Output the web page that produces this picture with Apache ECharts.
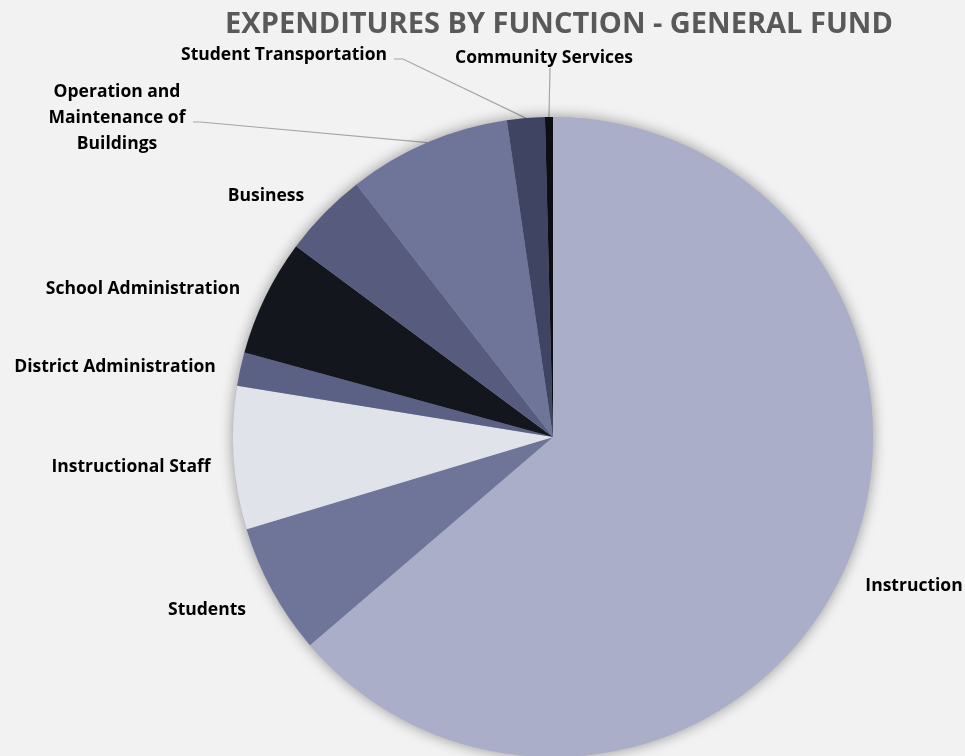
<!DOCTYPE html>
<html>
<head>
<meta charset="utf-8">
<script src="https://cdn.jsdelivr.net/npm/echarts@6/dist/echarts.min.js"></script>
<style>
html,body{margin:0;padding:0;background:#f2f2f2;}
#chart{width:965px;height:756px;}
</style>
</head>
<body>
<div id="chart"></div>
<script>
const titleText = 'EXPENDITURES BY FUNCTION - GENERAL FUND';
const categories = ['Instruction','Students','Instructional Staff','District Administration','School Administration','Business','Operation and\nMaintenance of\nBuildings','Student Transportation','Community Services'];
const values = [63.6, 6.6, 7.2, 1.7, 5.9, 4.3, 8.2, 1.9, 0.4];
const colors = ['#aaaec8','#6e7599','#e1e3eb','#5b6184','#13161d','#575c7e','#6f7598','#3f4463','#0c0e14'];

// label placement (centre x, centre y)
const labelPos = [[914,586],[207,610],[131,467],[115,367],[143,289],[266,196],[117,118],[284,55],[544,58]];
// leader lines: [bend point, end point] or null
const leaders = [null,null,null,null,null,null,[[200,122],[193,122]],[[403,59],[394,59]],[[550,68],[550,68]]];

const chart = echarts.init(document.getElementById('chart'));
const total = values.reduce((a,b)=>a+b,0);
const data = categories.map((c,i)=>({
  name:c, value:values[i],
  itemStyle:{color:colors[i]},
  labelLine:{show: !!leaders[i]}
}));
const font = 'Open Sans';
chart.setOption({
  backgroundColor:'#f2f2f2',
  title:{text:titleText,left:554,textAlign:'center',top:5,
    textStyle:{fontFamily:font,fontWeight:'bold',fontSize:29,color:'#595959'}},
  series:[{
    type:'pie',
    silent:true,
    center:[553,437],
    radius:[0,320],
    data:[{value:total,name:'',itemStyle:{color:'#aaaec8',shadowBlur:14,shadowColor:'rgba(0,0,0,0.4)'}}],
    label:{show:false},labelLine:{show:false},
    animation:false
  },{
    type:'pie',
    center:[553,437],
    radius:[0,320],
    startAngle:90,
    clockwise:true,
    data:data,
    animation:false,
    itemStyle:{borderWidth:0},
    label:{show:true,position:'outside',formatter:'{b}',overflow:'none',fontFamily:font,fontWeight:'bold',fontSize:17.5,color:'#000',lineHeight:26,align:'center'},
    labelLine:{lineStyle:{color:'#a6a6a6',width:1.2},smooth:false},
    labelLayout:function(params){
      const i = params.dataIndex;
      const p = labelPos[i];
      const res = {x:p[0], y:p[1], align:'center', verticalAlign:'middle', width:300};
      if (leaders[i] && params.labelLinePoints) {
        res.labelLinePoints = [params.labelLinePoints[0], leaders[i][0], leaders[i][1]];
      }
      return res;
    }
  }]
});
</script>
</body>
</html>
